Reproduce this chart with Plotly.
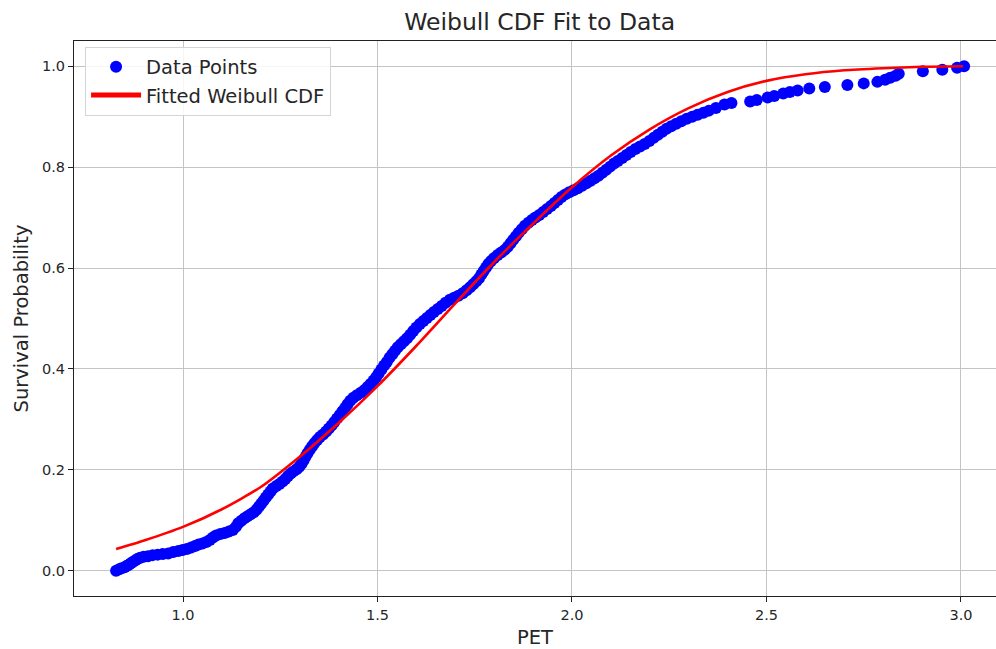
import plotly.graph_objects as go

# Empirical CDF of the PET sample (sorted observations and their cumulative share)
pet_values = [
    0.828, 0.836, 0.842, 0.850, 0.856, 0.861, 0.866, 0.872, 0.878, 0.884,
    0.890, 0.899, 0.910, 0.922, 0.935, 0.948, 0.962, 0.975, 0.988, 0.999,
    1.010, 1.021, 1.031, 1.040, 1.050, 1.060, 1.069, 1.077, 1.085, 1.096,
    1.107, 1.118, 1.128, 1.136, 1.142, 1.150, 1.158, 1.166, 1.174, 1.182,
    1.189, 1.195, 1.201, 1.207, 1.213, 1.219, 1.225, 1.231, 1.240, 1.248,
    1.256, 1.263, 1.270, 1.277, 1.284, 1.292, 1.299, 1.305, 1.310, 1.315,
    1.320, 1.326, 1.332, 1.338, 1.345, 1.352, 1.360, 1.368, 1.375, 1.382,
    1.389, 1.396, 1.403, 1.410, 1.417, 1.423, 1.430, 1.438, 1.447, 1.457,
    1.466, 1.474, 1.482, 1.490, 1.497, 1.503, 1.510, 1.517, 1.524, 1.531,
    1.538, 1.545, 1.552, 1.560, 1.568, 1.576, 1.584, 1.592, 1.600, 1.609,
    1.618, 1.627, 1.636, 1.645, 1.655, 1.665, 1.675, 1.686, 1.697, 1.708,
    1.719, 1.729, 1.738, 1.746, 1.754, 1.761, 1.767, 1.773, 1.779, 1.785,
    1.792, 1.800, 1.809, 1.818, 1.827, 1.835, 1.842, 1.849, 1.856, 1.863,
    1.871, 1.879, 1.888, 1.897, 1.906, 1.916, 1.926, 1.936, 1.946, 1.955,
    1.964, 1.973, 1.983, 1.993, 2.004, 2.015, 2.026, 2.037, 2.048, 2.058,
    2.068, 2.078, 2.088, 2.098, 2.108, 2.118, 2.129, 2.140, 2.151, 2.163,
    2.175, 2.187, 2.199, 2.210, 2.221, 2.232, 2.243, 2.255, 2.268, 2.281,
    2.295, 2.309, 2.323, 2.338, 2.352, 2.370, 2.392, 2.410, 2.458, 2.475,
    2.503, 2.520, 2.543, 2.560, 2.580, 2.610, 2.650, 2.708, 2.750, 2.785,
    2.805, 2.818, 2.832, 2.840, 2.902, 2.952, 2.990, 3.008,
]
cdf_values = [
    0.000, 0.003, 0.005, 0.007, 0.010, 0.012, 0.015, 0.018, 0.021, 0.024,
    0.026, 0.028, 0.029, 0.031, 0.032, 0.033, 0.034, 0.037, 0.039, 0.041,
    0.043, 0.046, 0.049, 0.052, 0.054, 0.057, 0.061, 0.066, 0.070, 0.073,
    0.075, 0.078, 0.081, 0.087, 0.094, 0.099, 0.104, 0.108, 0.112, 0.116,
    0.121, 0.127, 0.133, 0.139, 0.145, 0.151, 0.157, 0.163, 0.168, 0.172,
    0.177, 0.182, 0.188, 0.193, 0.197, 0.201, 0.206, 0.212, 0.219, 0.226,
    0.233, 0.240, 0.247, 0.253, 0.259, 0.265, 0.270, 0.276, 0.282, 0.288,
    0.295, 0.302, 0.309, 0.316, 0.323, 0.330, 0.337, 0.343, 0.348, 0.353,
    0.358, 0.364, 0.370, 0.377, 0.384, 0.391, 0.399, 0.407, 0.414, 0.422,
    0.429, 0.436, 0.443, 0.449, 0.455, 0.461, 0.468, 0.475, 0.482, 0.489,
    0.495, 0.501, 0.507, 0.513, 0.519, 0.525, 0.531, 0.537, 0.541, 0.545,
    0.550, 0.556, 0.562, 0.568, 0.574, 0.580, 0.587, 0.594, 0.601, 0.608,
    0.614, 0.620, 0.626, 0.631, 0.636, 0.642, 0.649, 0.656, 0.663, 0.670,
    0.677, 0.684, 0.690, 0.695, 0.700, 0.705, 0.711, 0.717, 0.723, 0.729,
    0.735, 0.741, 0.746, 0.750, 0.754, 0.758, 0.763, 0.768, 0.773, 0.778,
    0.783, 0.789, 0.795, 0.801, 0.807, 0.812, 0.818, 0.824, 0.830, 0.836,
    0.841, 0.846, 0.852, 0.858, 0.864, 0.870, 0.876, 0.881, 0.886, 0.891,
    0.896, 0.900, 0.904, 0.908, 0.912, 0.917, 0.924, 0.927, 0.930, 0.933,
    0.938, 0.941, 0.946, 0.949, 0.952, 0.956, 0.959, 0.963, 0.966, 0.969,
    0.973, 0.977, 0.981, 0.985, 0.990, 0.993, 0.997, 1.000,
]

# Fitted Weibull CDF evaluated along the PET range
fit_pet = [0.828, 0.90, 1.00, 1.10, 1.20, 1.30, 1.40, 1.50, 1.60, 1.70, 1.80,
           1.90, 2.00, 2.10, 2.20, 2.30, 2.40, 2.50, 2.60, 2.70, 2.80, 2.90, 3.005]
fit_cdf = [0.043, 0.060, 0.087, 0.122, 0.166, 0.226, 0.293, 0.366, 0.446, 0.530,
           0.612, 0.688, 0.760, 0.823, 0.875, 0.917, 0.949, 0.971, 0.984, 0.992,
           0.996, 0.999, 1.000]

x_ticks = [1.0, 1.5, 2.0, 2.5, 3.0]
y_ticks = [0.0, 0.2, 0.4, 0.6, 0.8, 1.0]

FONT = "DejaVu Sans"
TEXT = "#262626"
GRID = "#c4c4c4"

fig = go.Figure()
fig.add_trace(go.Scatter(
    x=pet_values, y=cdf_values, mode="markers", name="Data Points",
    marker=dict(color="#0000ff", size=12, line=dict(width=0)),
))
fig.add_trace(go.Scatter(
    x=fit_pet, y=fit_cdf, mode="lines", name="Fitted Weibull CDF",
    line=dict(color="#ff0000", width=2.6, shape="spline", smoothing=0.6),
))

fig.update_layout(
    width=996, height=649,
    margin=dict(l=74, r=0, t=41, b=53),
    paper_bgcolor="white", plot_bgcolor="white",
    font=dict(family=FONT, color=TEXT, size=14.5),
    title=dict(text="Weibull CDF Fit to Data", x=0.505, xref="paper", xanchor="center",
               y=1 - 22 / 649, yref="container", yanchor="middle",
               font=dict(family=FONT, size=23.5, color=TEXT)),
    legend=dict(x=0.012, y=0.99, xanchor="left", yanchor="top",
                bgcolor="rgba(255,255,255,0.85)", bordercolor="#d5d5d5", borderwidth=1,
                font=dict(family=FONT, size=19.5, color=TEXT),
                itemsizing="constant", itemwidth=50, tracegroupgap=2),
    showlegend=True,
)
fig.update_xaxes(
    range=[0.7198, 3.090], tickvals=x_ticks, ticktext=[f"{v:.1f}" for v in x_ticks],
    showgrid=True, gridcolor=GRID, gridwidth=1.2, zeroline=False,
    showline=True, linecolor="#222222", linewidth=1.2, mirror=True,
    ticks="outside", ticklen=5, tickwidth=1.2, tickcolor="#222222",
    tickfont=dict(size=14.5), automargin=False,
    title=dict(text="PET", font=dict(size=19.5), standoff=8),
)
fig.update_yaxes(
    range=[-0.05, 1.05], tickvals=y_ticks, ticktext=[f"{v:.1f}" for v in y_ticks],
    showgrid=True, gridcolor=GRID, gridwidth=1.2, zeroline=False,
    showline=True, linecolor="#222222", linewidth=1.2, mirror=False,
    ticks="outside", ticklen=5, tickwidth=1.2, tickcolor="#222222",
    tickfont=dict(size=14.5), automargin=False,
    title=dict(text="Survival Probability", font=dict(size=19.5), standoff=8),
)

fig.write_html("out.html")
